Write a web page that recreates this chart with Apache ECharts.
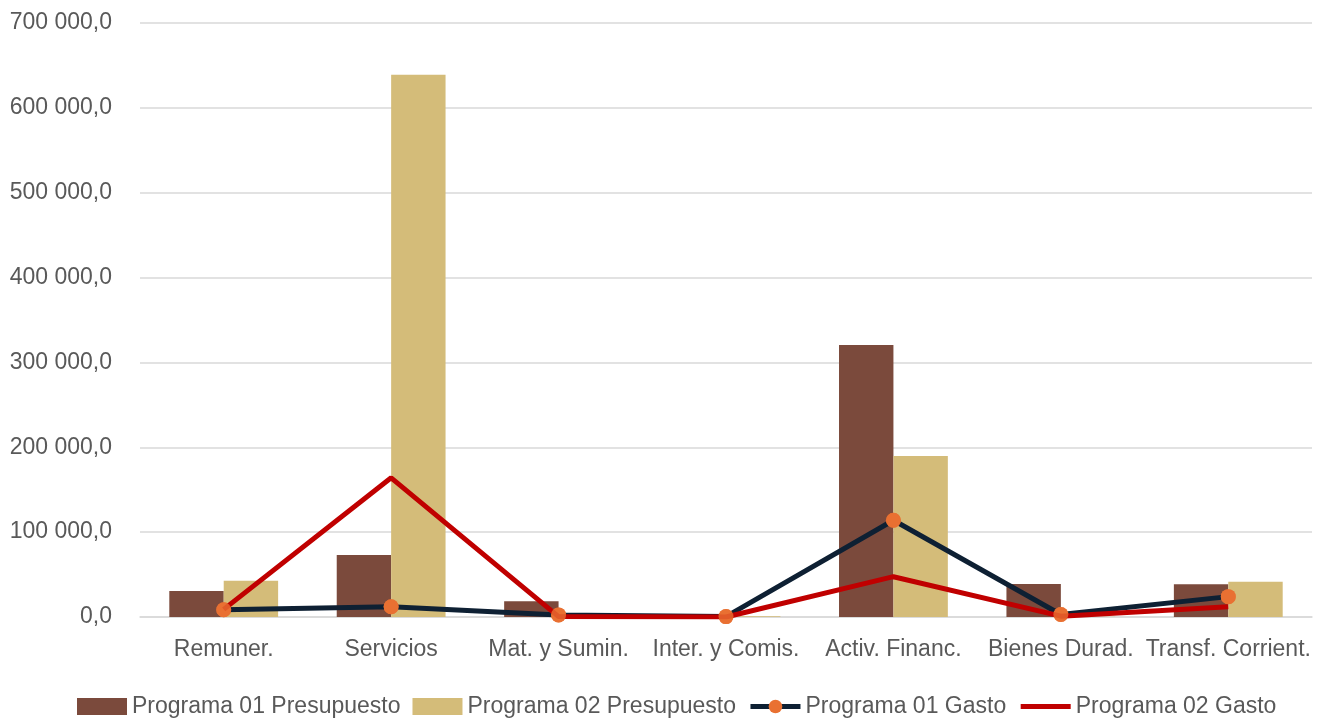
<!DOCTYPE html>
<html>
<head>
<meta charset="utf-8">
<script src="https://cdn.jsdelivr.net/npm/echarts@6/dist/echarts.min.js"></script>
<style>html,body{margin:0;padding:0;background:#fff}#c{width:1320px;height:722px}</style>
</head>
<body>
<div id="c"></div>
<script>
const categories = ['Remuner.', 'Servicios', 'Mat. y Sumin.', 'Inter. y Comis.', 'Activ. Financ.', 'Bienes Durad.', 'Transf. Corrient.'];
const prog01Presupuesto = [30500, 73000, 18500, 0, 320500, 39000, 38500];
const prog02Presupuesto = [42800, 639000, 500, 1000, 189800, 300, 41600];
const prog01Gasto = [8500, 12000, 2500, 500, 114000, 3000, 24000];
const prog02Gasto = [9000, 164000, 500, 0, 47500, 1000, 12000];
const yTicks = { min: 0, max: 700000, interval: 100000 };

const FONT = "'Liberation Sans Narrow', 'Arial Narrow', 'Liberation Sans', Arial, sans-serif";
const TXT = '#595959';
function fmt(v) {
  const s = Math.round(v).toString().replace(/\B(?=(\d{3})+(?!\d))/g, ' ');
  return s + ',0';
}
const chart = echarts.init(document.getElementById('c'), null, { renderer: 'canvas' });
chart.setOption({
  animation: false,
  backgroundColor: '#fff',
  grid: { left: 140, right: 8, top: 23, bottom: 105, containLabel: false },
  legend: {
    bottom: -1, left: 72,
    data: [
      { name: 'Programa 01 Presupuesto', icon: 'rect' },
      { name: 'Programa 02 Presupuesto', icon: 'rect' },
      { name: 'Programa 01 Gasto' },
      { name: 'Programa 02 Gasto', itemStyle: { opacity: 0 } }
    ],
    itemWidth: 50, itemHeight: 17, itemGap: 12,
    lineStyle: { width: 5 },
    textStyle: { fontFamily: FONT, fontSize: 23, color: TXT }
  },
  xAxis: {
    type: 'category', data: categories,
    axisLine: { lineStyle: { color: '#D9D9D9', width: 1.5 } },
    axisTick: { show: false },
    axisLabel: { fontFamily: FONT, fontSize: 23, color: TXT, margin: 21, interval: 0 }
  },
  yAxis: {
    type: 'value', min: yTicks.min, max: yTicks.max, interval: yTicks.interval,
    axisLine: { show: false }, axisTick: { show: false },
    splitLine: { lineStyle: { color: '#D9D9D9', width: 1.5 } },
    axisLabel: { fontFamily: FONT, fontSize: 23, color: TXT, margin: 28, formatter: fmt }
  },
  series: [
    { name: 'Programa 01 Presupuesto', type: 'bar', data: prog01Presupuesto, barGap: '0%', barCategoryGap: '35%', itemStyle: { color: '#7B4A3C' }, z: 1 },
    { name: 'Programa 02 Presupuesto', type: 'bar', data: prog02Presupuesto, itemStyle: { color: '#D4BC79' }, z: 1 },
    { name: 'Programa 01 Gasto', type: 'line', data: prog01Gasto, symbol: 'circle', symbolSize: 15,
      lineStyle: { color: '#0E2033', width: 5 }, itemStyle: { color: '#E97132' }, color: '#0E2033', z: 3 },
    { name: 'Programa 02 Gasto', type: 'line', data: prog02Gasto, symbol: 'none', showSymbol: false,
      lineStyle: { color: '#C00000', width: 5 }, itemStyle: { color: '#C00000' }, z: 4 },
    { name: 'marcadores', type: 'scatter', data: prog01Gasto, symbol: 'circle', symbolSize: 15,
      itemStyle: { color: '#E97132' }, z: 5, silent: true }
  ]
});
</script>
</body>
</html>
